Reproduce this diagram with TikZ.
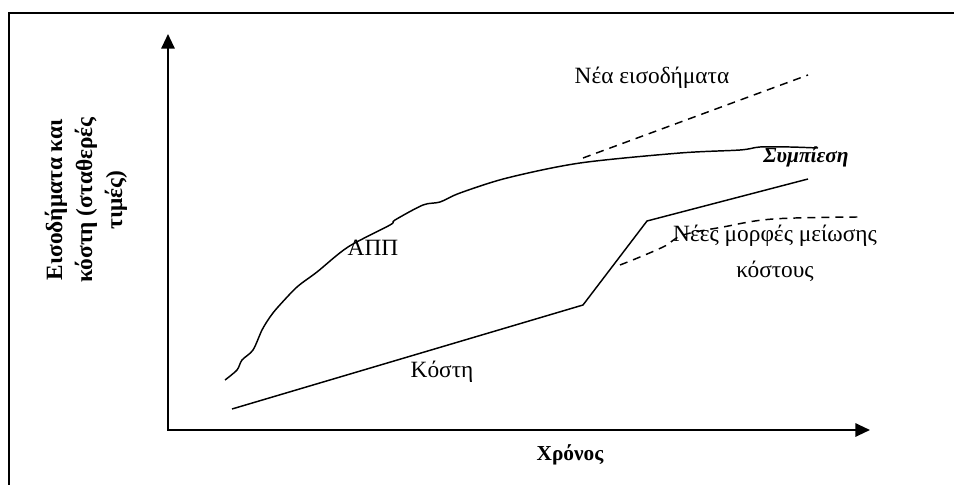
\documentclass[tikz,border=0pt]{standalone}
\usepackage{fontspec}
\setmainfont{Liberation Serif}
\usetikzlibrary{arrows.meta}
\tikzset{
  axis/.style={line width=1.5pt,{Triangle[length=11pt,width=10pt]}-{Triangle[length=11pt,width=10pt]}},
  curve/.style={line width=1.1pt},
  newline/.style={line width=1.1pt,dash pattern=on 6pt off 4.5pt},
  lbl/.style={font=\fontsize{17.5}{27}\selectfont,inner sep=0pt},
  boldlbl/.style={font=\fontsize{16}{22.5}\selectfont\bfseries,inner sep=0pt},
  ylbl/.style={font=\fontsize{17.5}{22.5}\selectfont\bfseries,inner sep=0pt},
}
\begin{document}
\begin{tikzpicture}[x=0.75pt,y=-0.75pt]
  \useasboundingbox (0,0) rectangle (954,485);
  \draw[line width=1.5pt] (9,485) |- (954,13);
  % axes
  \coordinate (o) at (168,430);
  \coordinate (ytop) at (168,34);
  \coordinate (xend) at (870,430);
  \draw[axis] (ytop) -- (o) -- (xend);
  % labels
  \draw
    (652,78) node[lbl] (nea){Νέα εισοδήματα}
    (806,157) node[boldlbl] (symp){\itshape Συμπίεση}
    (373,248) node[lbl] (app){ΑΠΠ}
    (442,372) node[lbl] (kosti){Κόστη}
    (775,253) node[lbl,align=center] (nees){Νέες μορφές μείωσης\\κόστους}
    (570,455) node[boldlbl] (xronos){Χρόνος}
    (86,200) node[ylbl,rotate=90,align=center] (ylab){Εισοδήματα και\\κόστη (σταθερές\\τιμές)};
  % curves
  \begin{scope}[curve]
    \draw plot[smooth,tension=0.5] coordinates {(225,380) (237,370) (242,360) (253,350) (262,330)
      (270,317) (278,307) (297,287) (317,272) (348,247) (390,225) (395,220) (423,205) (440,202)
      (460,193) (507,178) (580,163) (680,153) (740,150) (760,147) (790,147) (818,148)};
    \draw (232,409) -- (583,305) -- (647,221) -- (808,179);
  \end{scope}
  \begin{scope}[newline]
    \draw (583,158) -- (808,75);
    \draw plot[smooth,tension=0.6] coordinates {(620,265) (640,257) (665,246) (683,235)
      (723,227) (773,219) (858,217)};
  \end{scope}
\end{tikzpicture}
\end{document}
